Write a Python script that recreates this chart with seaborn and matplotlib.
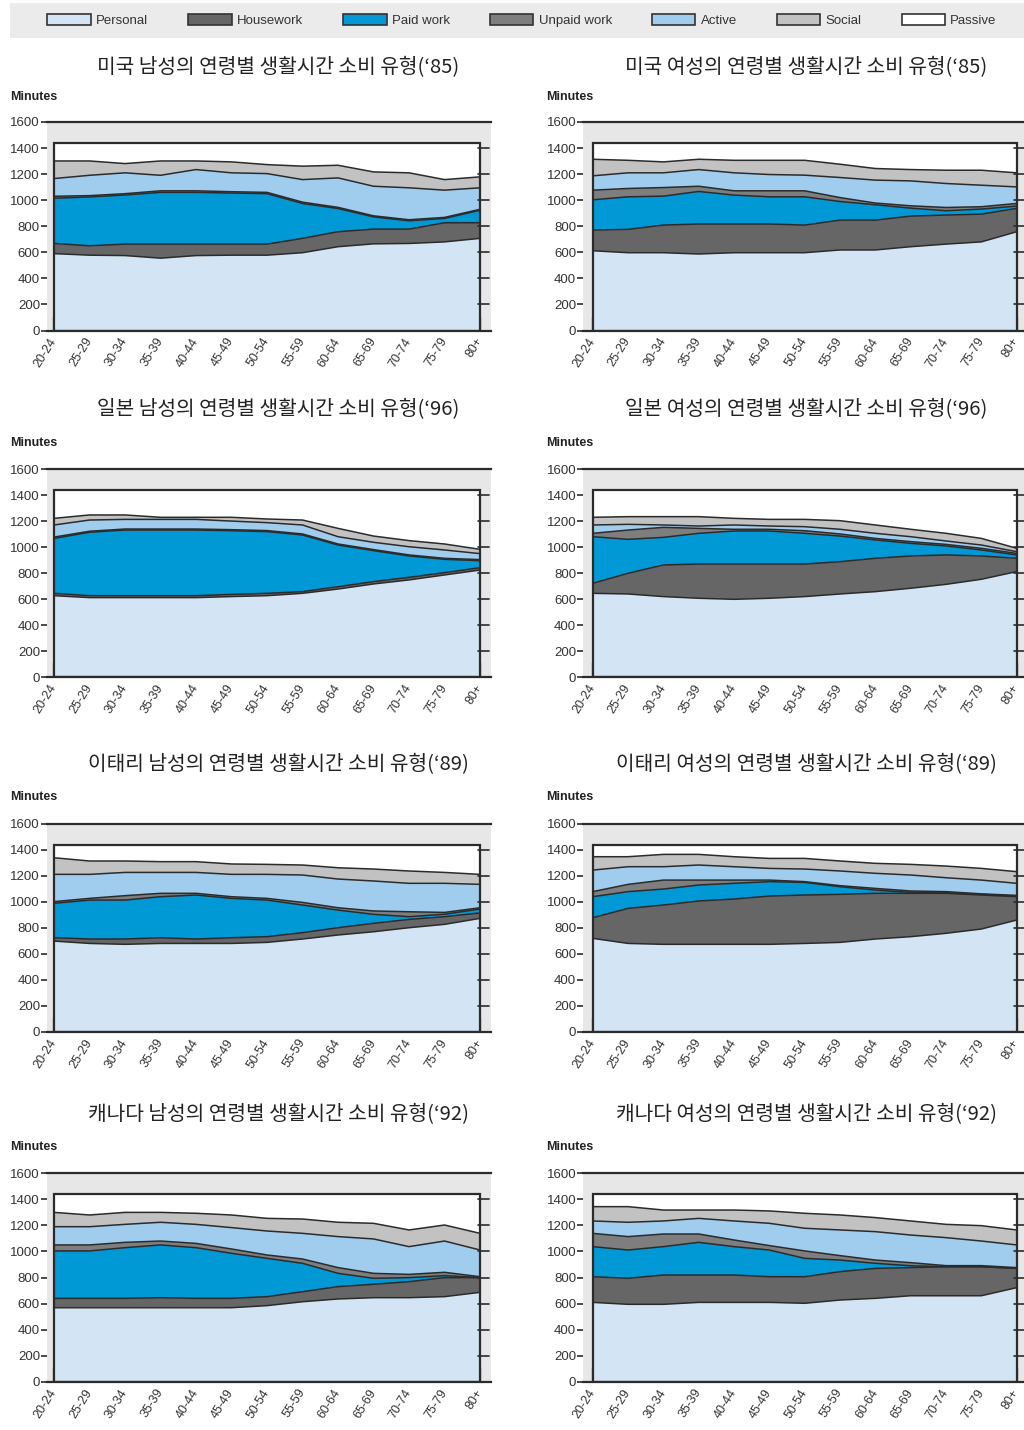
import numpy as np
import matplotlib
matplotlib.use("Agg")
import matplotlib.pyplot as plt
from matplotlib import font_manager
from matplotlib.patches import Rectangle, Patch
import seaborn as sns

# ---------------- data (minutes per day) ----------------
ages = ["20-24", "25-29", "30-34", "35-39", "40-44", "45-49", "50-54",
        "55-59", "60-64", "65-69", "70-74", "75-79", "80+"]
layers = ["Personal", "Housework", "Paid work", "Unpaid work", "Active", "Social", "Passive"]

# USA men 1985
us_m_personal = [590, 578, 575, 555, 575, 578, 578, 597, 643, 665, 668, 680, 707]
us_m_housework = [78, 72, 88, 108, 88, 85, 85, 110, 115, 113, 110, 147, 120]
us_m_paid = [347, 375, 377, 397, 397, 392, 387, 268, 178, 94, 64, 33, 96]
us_m_unpaid = [15, 10, 10, 12, 12, 10, 10, 10, 9, 8, 8, 8, 7]
us_m_active = [136, 156, 160, 119, 163, 145, 144, 173, 226, 227, 245, 209, 165]
us_m_social = [135, 110, 71, 110, 66, 84, 69, 103, 97, 110, 115, 81, 84]

# USA women 1985
us_f_personal = [612, 597, 597, 587, 597, 597, 597, 618, 618, 643, 663, 680, 758]
us_f_housework = [159, 179, 212, 230, 220, 220, 212, 229, 229, 235, 223, 213, 179]
us_f_paid = [232, 250, 222, 250, 222, 209, 217, 143, 118, 61, 33, 39, 18]
us_f_unpaid = [74, 64, 66, 40, 33, 46, 46, 30, 13, 18, 25, 18, 20]
us_f_active = [110, 120, 113, 128, 138, 125, 120, 154, 176, 191, 184, 165, 127]
us_f_social = [127, 96, 84, 79, 96, 109, 114, 102, 89, 87, 102, 115, 108]

# Japan men 1996
jp_m_personal = [627, 612, 612, 612, 612, 620, 627, 645, 678, 717, 748, 786, 824]
jp_m_housework = [18, 15, 15, 15, 15, 17, 18, 13, 18, 18, 20, 18, 18]
jp_m_paid = [422, 487, 504, 504, 504, 489, 474, 435, 320, 238, 164, 102, 54]
jp_m_unpaid = [10, 8, 8, 8, 8, 8, 8, 8, 8, 8, 8, 8, 8]
jp_m_active = [93, 86, 74, 74, 74, 66, 61, 69, 56, 56, 63, 64, 46]
jp_m_social = [51, 39, 34, 16, 16, 29, 28, 38, 64, 48, 47, 46, 33]

# Japan women 1996
jp_f_personal = [645, 640, 620, 607, 599, 607, 620, 640, 658, 684, 714, 753, 812]
jp_f_housework = [77, 159, 243, 263, 271, 263, 250, 248, 256, 248, 226, 179, 102]
jp_f_paid = [358, 261, 212, 236, 254, 254, 236, 197, 141, 97, 69, 46, 26]
jp_f_unpaid = [26, 71, 77, 38, 13, 13, 20, 16, 12, 13, 12, 13, 12]
jp_f_active = [64, 44, 18, 18, 33, 25, 31, 36, 39, 38, 26, 25, 13]
jp_f_social = [59, 59, 64, 72, 51, 51, 56, 66, 64, 57, 59, 51, 26]

# Italy men 1989
it_m_personal = [698, 680, 673, 680, 680, 680, 688, 714, 745, 770, 801, 827, 873]
it_m_housework = [26, 34, 41, 44, 34, 44, 44, 49, 56, 65, 64, 59, 42]
it_m_paid = [265, 300, 300, 316, 339, 303, 282, 213, 136, 69, 21, 19, 30]
it_m_unpaid = [13, 13, 34, 26, 13, 13, 13, 20, 18, 26, 38, 14, 10]
it_m_active = [210, 185, 179, 161, 161, 172, 185, 211, 221, 231, 219, 224, 180]
it_m_social = [128, 103, 88, 83, 83, 80, 77, 77, 87, 92, 95, 84, 77]

# Italy women 1989
it_f_personal = [719, 680, 673, 673, 673, 673, 680, 688, 714, 732, 758, 791, 860]
it_f_housework = [159, 270, 303, 334, 349, 372, 373, 370, 352, 334, 308, 262, 180]
it_f_paid = [162, 129, 123, 123, 121, 111, 97, 59, 25, 7, 4, 5, 5]
it_f_unpaid = [39, 56, 69, 38, 25, 12, 6, 8, 13, 11, 9, 4, 5]
it_f_active = [166, 136, 103, 116, 103, 90, 97, 113, 116, 123, 107, 106, 93]
it_f_social = [103, 77, 95, 82, 77, 77, 82, 77, 77, 82, 90, 90, 90]

# Canada men 1992
ca_m_personal = [568, 568, 568, 568, 568, 568, 584, 614, 635, 645, 645, 653, 686]
ca_m_housework = [72, 72, 72, 77, 72, 72, 69, 77, 95, 103, 123, 146, 113]
ca_m_paid = [364, 364, 389, 405, 389, 346, 294, 218, 102, 46, 31, 15, 0]
ca_m_unpaid = [46, 46, 41, 30, 33, 33, 26, 33, 44, 38, 25, 26, 7]
ca_m_active = [140, 140, 138, 144, 146, 164, 184, 197, 238, 264, 213, 240, 205]
ca_m_social = [110, 90, 92, 76, 85, 97, 97, 110, 110, 120, 128, 123, 128]

# Canada women 1992
ca_f_personal = [609, 594, 594, 609, 609, 609, 602, 627, 640, 660, 660, 660, 722]
ca_f_housework = [197, 200, 225, 210, 210, 197, 204, 218, 230, 216, 223, 223, 148]
ca_f_paid = [231, 217, 218, 251, 218, 205, 141, 89, 39, 14, 0, 0, 0]
ca_f_unpaid = [102, 103, 97, 64, 51, 34, 57, 34, 25, 24, 8, 8, 6]
ca_f_active = [95, 110, 100, 120, 146, 171, 174, 197, 218, 212, 215, 189, 174]
ca_f_social = [110, 120, 84, 64, 84, 95, 115, 115, 108, 108, 102, 118, 115]

day_minutes = 1440

titles = [
    "미국 남성의 연령별 생활시간 소비 유형(‘85)", "미국 여성의 연령별 생활시간 소비 유형(‘85)",
    "일본 남성의 연령별 생활시간 소비 유형(‘96)", "일본 여성의 연령별 생활시간 소비 유형(‘96)",
    "이태리 남성의 연령별 생활시간 소비 유형(‘89)", "이태리 여성의 연령별 생활시간 소비 유형(‘89)",
    "캐나다 남성의 연령별 생활시간 소비 유형(‘92)", "캐나다 여성의 연령별 생활시간 소비 유형(‘92)",
]
panels = [
    [us_m_personal, us_m_housework, us_m_paid, us_m_unpaid, us_m_active, us_m_social],
    [us_f_personal, us_f_housework, us_f_paid, us_f_unpaid, us_f_active, us_f_social],
    [jp_m_personal, jp_m_housework, jp_m_paid, jp_m_unpaid, jp_m_active, jp_m_social],
    [jp_f_personal, jp_f_housework, jp_f_paid, jp_f_unpaid, jp_f_active, jp_f_social],
    [it_m_personal, it_m_housework, it_m_paid, it_m_unpaid, it_m_active, it_m_social],
    [it_f_personal, it_f_housework, it_f_paid, it_f_unpaid, it_f_active, it_f_social],
    [ca_m_personal, ca_m_housework, ca_m_paid, ca_m_unpaid, ca_m_active, ca_m_social],
    [ca_f_personal, ca_f_housework, ca_f_paid, ca_f_unpaid, ca_f_active, ca_f_social],
]

# ---------------- style ----------------
colors = ["#d3e5f5", "#666666", "#0099d6", "#7e7e7e", "#a0cdee", "#c2c2c2", "#ffffff"]
bg = "#e7e7e7"
ink = "#2b2b2b"

sns.set_theme(style="white")
installed = {f.name for f in font_manager.fontManager.ttflist}
latin = "Liberation Sans" if "Liberation Sans" in installed else "DejaVu Sans"
plt.rcParams["font.family"] = [latin, "DejaVu Sans"]
kfont = ["Noto Sans CJK KR", "DejaVu Sans"]

W, H = 1024, 1430
fig = plt.figure(figsize=(W / 100, H / 100), dpi=100)

# legend band
fig.patches.append(Rectangle((10 / W, 1 - 38 / H), 1 - 10 / W, 35 / H,
                             transform=fig.transFigure, facecolor="#ebebeb",
                             edgecolor="none", zorder=0))
handles = [Patch(facecolor=c, edgecolor="#333333", linewidth=1.2) for c in colors]
fig.legend(handles, layers, loc="center", mode="expand",
           bbox_to_anchor=(42 / W, 1 - 33 / H, 960 / W, 25 / H), ncol=7,
           frameon=False, fontsize=9.5, handlelength=3.3, handleheight=0.9,
           handletextpad=0.4, borderaxespad=0, labelcolor="#333333")

rows = [(122, 330.5, 68, 97), (469, 677.3, 410, 443), (824, 1031.7, 765, 797), (1173.3, 1381.7, 1115, 1147)]
cols = [(46.9, 490.7, -0.2, 278, 10), (583.2, 1027.3, -0.27, 806, 546)]

x = np.arange(len(ages))
for i, series in enumerate(panels):
    r, c = divmod(i, 2)
    top, bot, ty, my = rows[r]
    left, right, xmin, tx, mx = cols[c]
    ax = fig.add_axes([left / W, 1 - bot / H, (right - left) / W, (bot - top) / H])
    ax.set_facecolor(bg)
    ax.set_xlim(xmin, 12.3)
    ax.set_ylim(0, 1600)

    # passive (white box = full day)
    ax.add_patch(Rectangle((0, 0), 12, day_minutes, facecolor="white", edgecolor="none", zorder=1))
    cum = np.zeros(len(ages))
    bounds = []
    for vals, col in zip(series, colors[:-1]):
        v = np.asarray(vals, dtype=float)
        ax.fill_between(x, cum, cum + v, facecolor=col, edgecolor="none", linewidth=0, zorder=2)
        cum = cum + v
        bounds.append(cum.copy())
    for b in bounds:
        sns.lineplot(x=x, y=b, ax=ax, color=ink, linewidth=1.1, legend=False,
                     estimator=None, zorder=3)
    ax.add_patch(Rectangle((0, 0), 12, day_minutes, fill=False, edgecolor=ink, linewidth=1.6, zorder=5))

    # right-side ticks at the box edge
    for yv in range(200, 1600, 200):
        ax.plot([11.93, 12.25], [yv, yv], color=ink, linewidth=1.2, zorder=6, clip_on=False)

    for s in ["left", "right"]:
        ax.spines[s].set_visible(False)
    for s in ["top", "bottom"]:
        ax.spines[s].set_visible(True)
        ax.spines[s].set_color(ink)
        ax.spines[s].set_linewidth(1.6)

    ax.set_yticks(range(0, 1601, 200))
    ax.set_yticklabels([str(v) for v in range(0, 1601, 200)], fontsize=9.5, color="#333333")
    ax.tick_params(axis="y", left=True, direction="out", length=4, width=1.2, color=ink, pad=1)
    ax.set_xticks(x)
    ax.set_xticklabels(ages, fontsize=9, color="#333333", rotation=58, ha="right",
                       va="center", rotation_mode="anchor")
    ax.tick_params(axis="x", bottom=True, direction="in", length=10, width=1.6, color=ink, pad=6)
    ax.set_xlabel("")
    ax.set_ylabel("")
    ax.grid(False)

    fig.text(tx / W, 1 - ty / H, titles[i], ha="center", va="center", fontsize=14.6,
             family=kfont, color="#222222")
    fig.text(mx / W, 1 - my / H, "Minutes", ha="left", va="center", fontsize=9,
             color="#222222", fontweight="bold")

fig.savefig("out.png", dpi=100, facecolor="white")
